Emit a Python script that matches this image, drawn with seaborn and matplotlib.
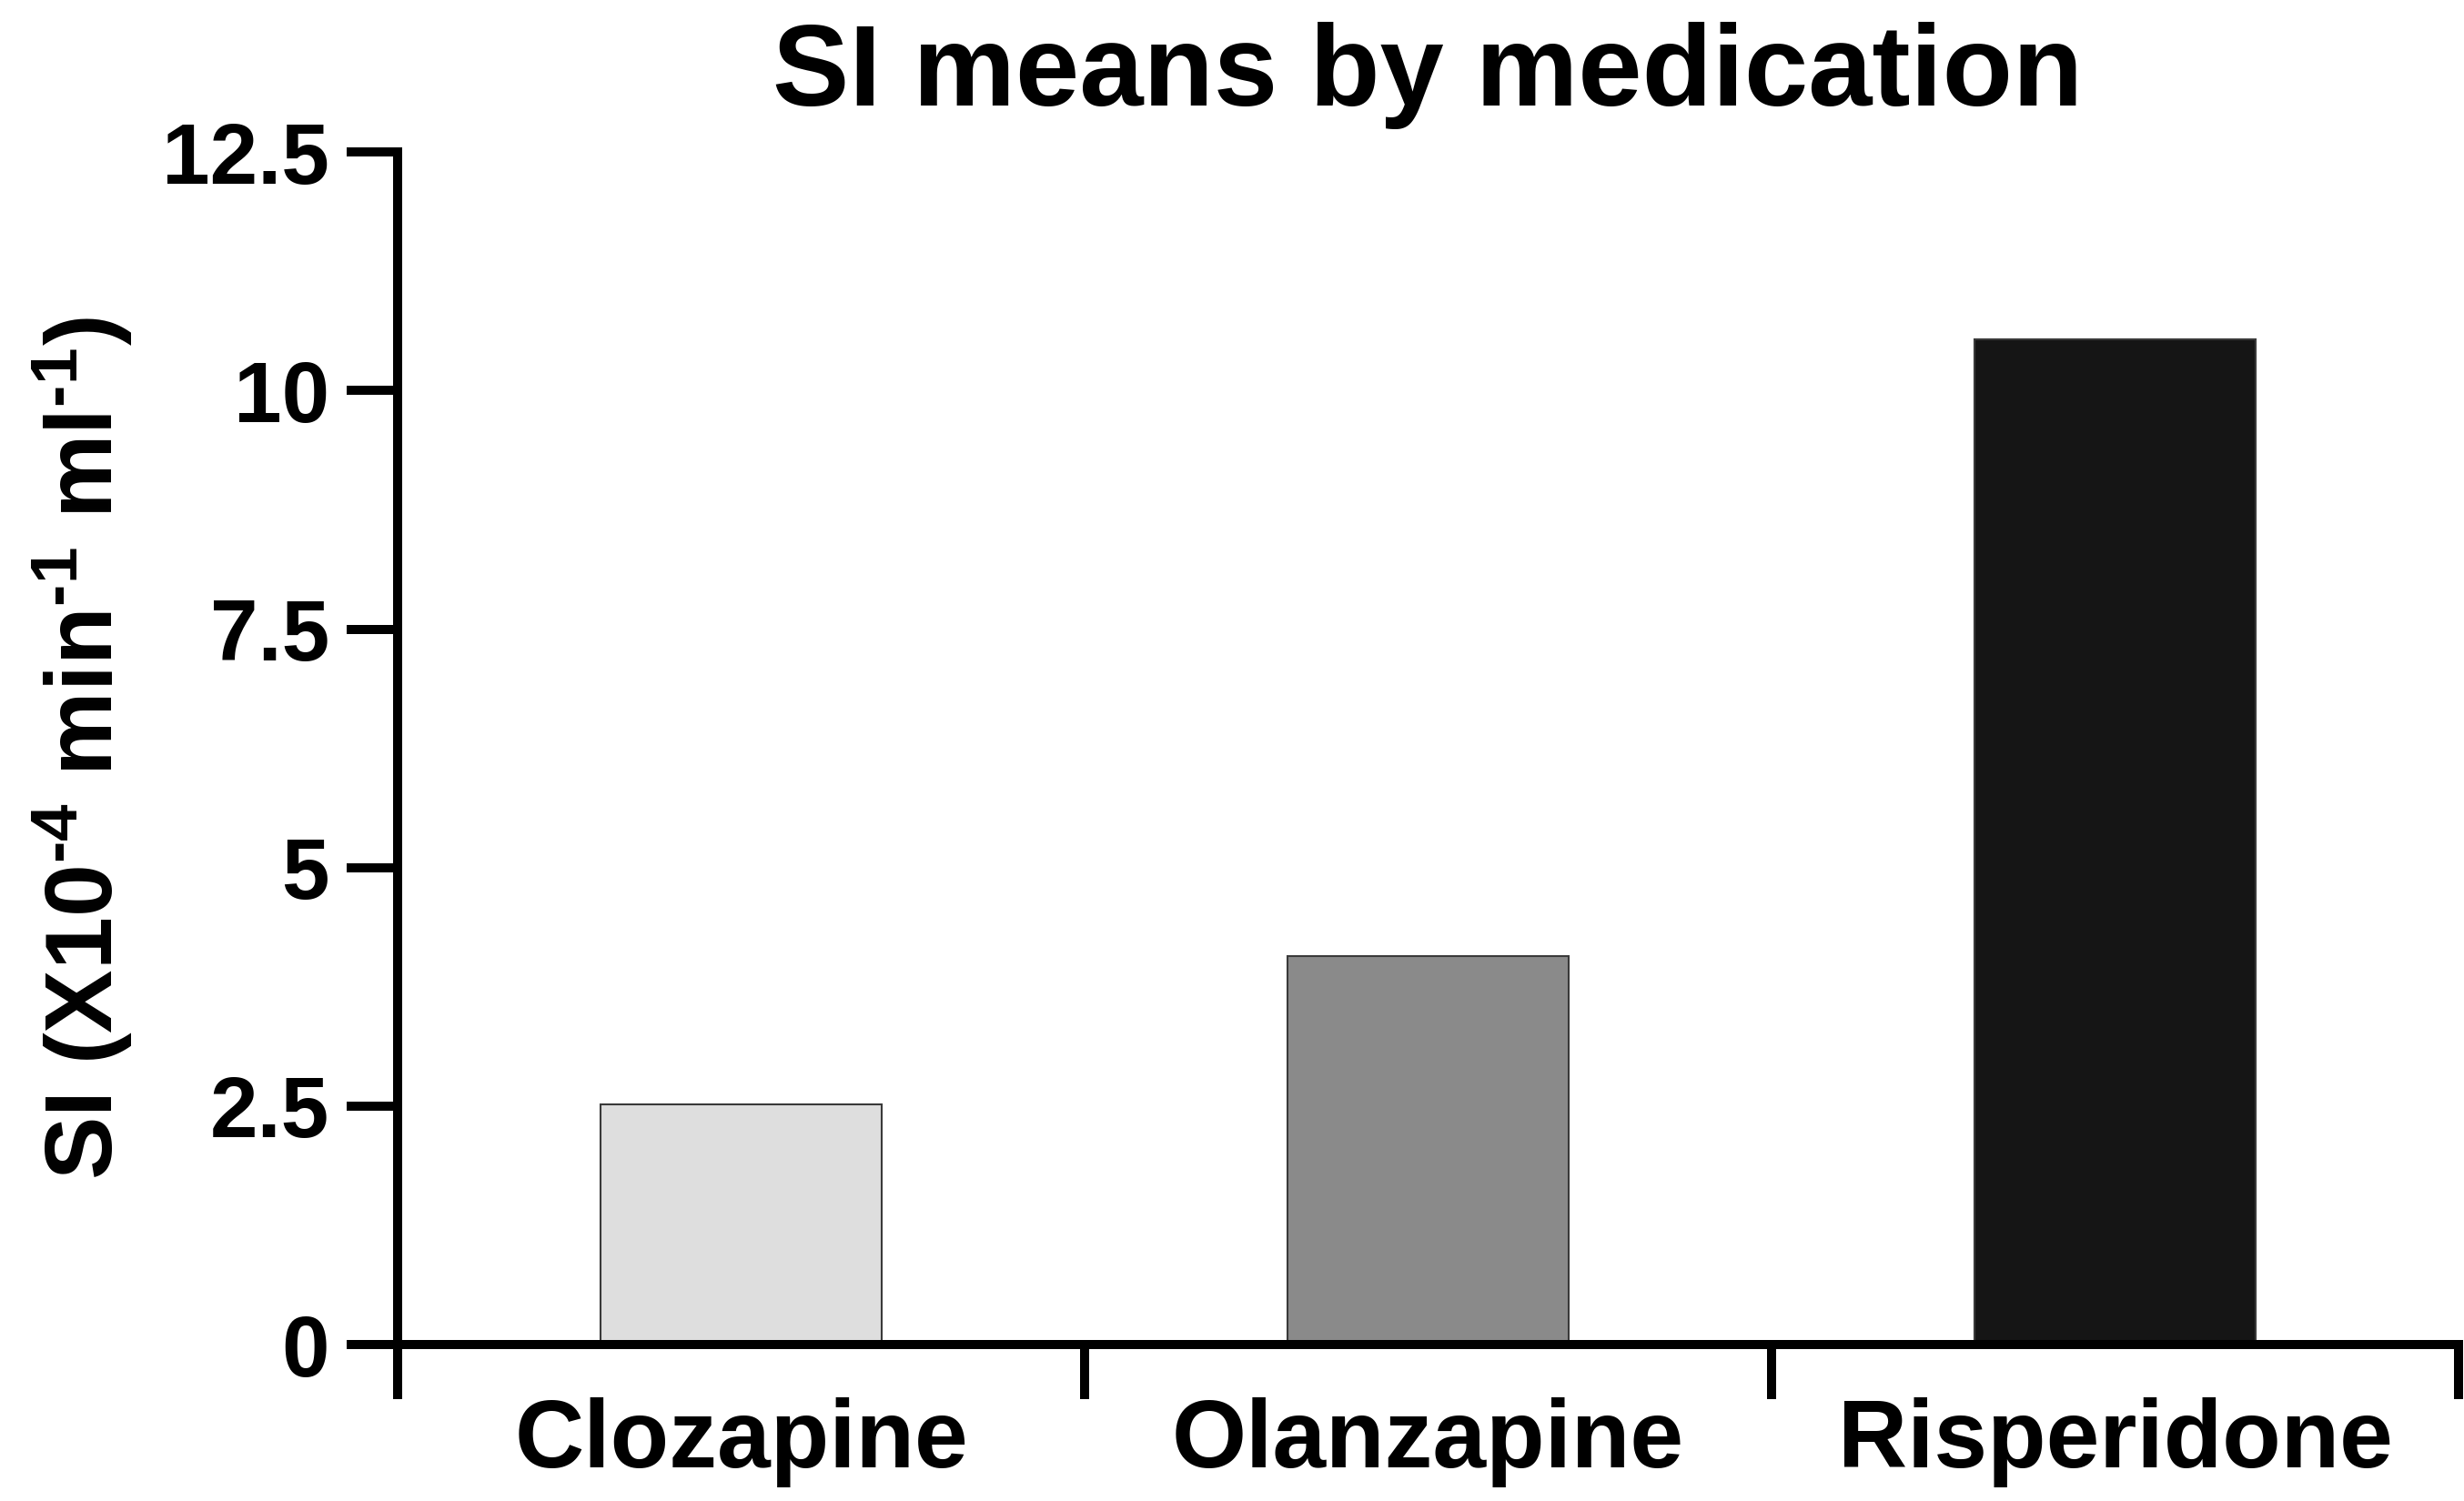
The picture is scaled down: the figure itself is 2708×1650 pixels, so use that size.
import matplotlib
matplotlib.use("Agg")
import matplotlib.pyplot as plt
import seaborn as sns
import pandas as pd

# SI means
medications = ["Clozapine", "Olanzapine", "Risperidone"]
si_means = [2.52, 4.07, 10.54]
bar_colors = ["#dedede", "#8a8a8a", "#151515"]
y_ticks = [0, 2.5, 5, 7.5, 10, 12.5]
y_tick_labels = ["0", "2.5", "5", "7.5", "10", "12.5"]

sns.set_style("ticks")
plt.rcParams["font.family"] = ["Liberation Sans", "DejaVu Sans"]
plt.rcParams["font.weight"] = "bold"
plt.rcParams["text.color"] = "black"
plt.rcParams["axes.labelcolor"] = "black"
plt.rcParams["xtick.color"] = "black"
plt.rcParams["ytick.color"] = "black"
plt.rcParams["mathtext.fontset"] = "custom"
plt.rcParams["mathtext.rm"] = "Liberation Sans:bold"
plt.rcParams["mathtext.bf"] = "Liberation Sans:bold"
plt.rcParams["mathtext.default"] = "rm"

df = pd.DataFrame({"Medication": medications, "SI": si_means})

fig = plt.figure(figsize=(27.08, 16.5), dpi=100)
ax = fig.add_axes([0.1614, 0.1042, 0.8364, 0.7945])

sns.barplot(data=df, x="Medication", y="SI", hue="Medication",
            palette=bar_colors, legend=False, width=0.41,
            edgecolor="#3a3a3a", linewidth=1.5, ax=ax)

ax.set_xlim(-0.5, 2.5)
ax.set_ylim(0, 12.5)

# category labels at the centres, tick marks on the category boundaries
ax.set_xticks([-0.5, 0.5, 1.5, 2.5])
ax.set_xticklabels([])
ax.set_xticks([0, 1, 2], minor=True)
ax.set_xticklabels(medications, minor=True, fontsize=76, fontweight="bold",
                   color="black")
ax.tick_params(axis="x", which="major", length=43, width=7.2, direction="out",
               color="black")
ax.tick_params(axis="x", which="minor", length=0, pad=42)

ax.set_yticks(y_ticks)
ax.set_yticklabels(y_tick_labels, fontsize=68, fontweight="bold", color="black")
ax.tick_params(axis="y", length=40, width=7.2, pad=14, color="black")

for side in ["left", "bottom"]:
    ax.spines[side].set_linewidth(7.2)
    ax.spines[side].set_color("black")
sns.despine(ax=ax)

ax.set_xlabel("")
ax.set_ylabel(r"SI (X10$^{\text{-4}}$ min$^{\text{-1}}$ ml$^{\text{-1}}$)",
              fontsize=75, fontweight="bold", labelpad=22, color="black")
ax.set_title("SI means by medication", fontsize=91, fontweight="bold", pad=37,
             color="black")

fig.savefig("out.png", dpi=100)
plt.close(fig)
